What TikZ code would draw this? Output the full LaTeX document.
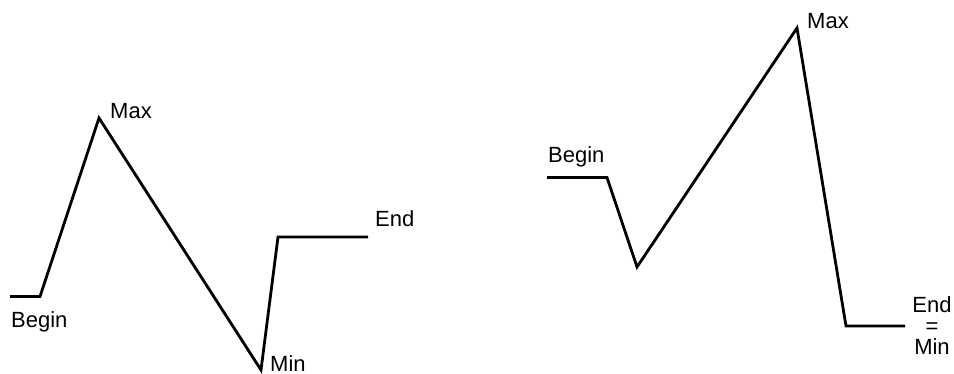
\documentclass[tikz,border=0pt]{standalone}
\usepackage{fontspec}
\setmainfont{Liberation Sans}
\begin{document}
\begin{tikzpicture}[x=1pt,y=-1pt,
  curve/.style={line width=2.8pt,line join=miter,black},
  lbl/.style={inner sep=0pt,anchor=base west,font=\fontsize{22}{22}\selectfont}]
\useasboundingbox (0,0) rectangle (954,374);
% left graph
\coordinate (lb0) at (10,296.5);
\coordinate (lb1) at (40,296.5);
\coordinate (lmax) at (99,118);
\coordinate (lmin) at (261,370);
\coordinate (le0) at (278,237);
\coordinate (le1) at (368,237);
\draw[curve] (lb0) -- (lb1) -- (lmax) -- (lmin) -- (le0) -- (le1);
\node[lbl] (lbegin) at (11,327) {Begin};
\node[lbl] (lmaxl) at (110,119) {Max};
\node[lbl] (lminl) at (270,371) {Min};
\node[lbl] (lendl) at (375,227) {End};
% right graph
\coordinate (rb0) at (547,177.5);
\coordinate (rb1) at (607,177.5);
\coordinate (rdip) at (637,267);
\coordinate (rmax) at (797,28);
\coordinate (rmin) at (846,326);
\coordinate (re1) at (905,326);
\draw[curve] (rb0) -- (rb1) -- (rdip) -- (rmax) -- (rmin) -- (re1);
\node[lbl] (rbegin) at (548,163) {Begin};
\node[lbl] (rmaxl) at (807,29) {Max};
\node[inner sep=0pt,anchor=base,align=center,font=\fontsize{22}{21.5}\selectfont] (rendl) at (932,355) {End\\=\\Min};
\end{tikzpicture}
\end{document}
